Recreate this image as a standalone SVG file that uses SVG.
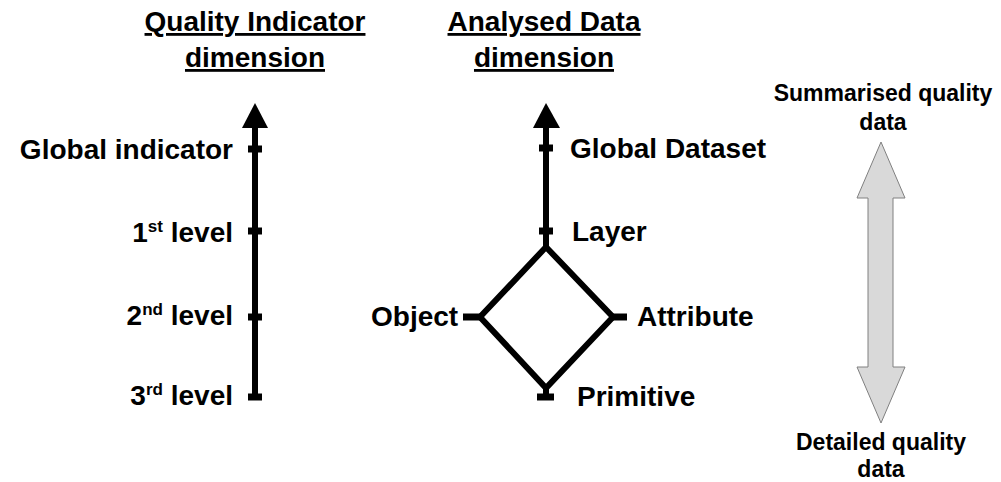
<svg xmlns="http://www.w3.org/2000/svg" width="1001" height="482" viewBox="0 0 1001 482">
<style>
text{font-family:"Liberation Sans",Arial,sans-serif;font-weight:bold;fill:#000}
.h{font-size:28px;text-anchor:middle;text-decoration:underline}
.l{font-size:28px}
.r{font-size:23px;text-anchor:middle}
.sup{font-size:17px}
.ax{stroke:#000;stroke-width:6;fill:none}
.tk{stroke:#000;stroke-width:7;fill:none}
</style>
<g id="header-quality"><text class="h" x="255" y="31">Quality Indicator</text><text class="h" x="255" y="67">dimension</text></g>
<g id="header-data"><text class="h" x="544" y="31">Analysed Data</text><text class="h" x="544" y="67">dimension</text></g>
<g id="connectors">
<line class="ax" x1="255" y1="125" x2="255" y2="397"/>
<polygon points="255,103 268,128 242,128" fill="#000"/>
<line class="ax" x1="546" y1="125" x2="546" y2="247"/>
<polygon points="546,103 560,128 533,128" fill="#000"/>
<polygon class="ax" points="546,247 613,317 546,388 480,317" stroke-linejoin="miter"/>
<line class="ax" x1="546" y1="386" x2="546" y2="397"/>
</g>
<g id="global-indicator"><line class="tk" x1="248" y1="149" x2="262" y2="149"/><text class="l" x="233" y="159" text-anchor="end">Global indicator</text></g>
<g id="level1"><line class="tk" x1="248" y1="231" x2="262" y2="231"/><text class="l" x="233" y="242" text-anchor="end">1<tspan class="sup" dy="-10">st</tspan><tspan dy="10"> level</tspan></text></g>
<g id="level2"><line class="tk" x1="248" y1="317" x2="262" y2="317"/><text class="l" x="233" y="325" text-anchor="end">2<tspan class="sup" dy="-10">nd</tspan><tspan dy="10"> level</tspan></text></g>
<g id="level3"><line class="tk" x1="248" y1="397" x2="262" y2="397"/><text class="l" x="233" y="405" text-anchor="end">3<tspan class="sup" dy="-10">rd</tspan><tspan dy="10"> level</tspan></text></g>
<g id="global-dataset"><line class="tk" x1="539" y1="148" x2="553" y2="148"/><text class="l" x="570" y="158">Global Dataset</text></g>
<g id="layer"><line class="tk" x1="539" y1="231" x2="553" y2="231"/><text class="l" x="572" y="241">Layer</text></g>
<g id="object"><line class="tk" x1="463" y1="317" x2="481" y2="317"/><text class="l" x="371" y="326">Object</text></g>
<g id="attribute"><line class="tk" x1="612" y1="317" x2="627" y2="317"/><text class="l" x="637" y="326">Attribute</text></g>
<g id="primitive"><line class="tk" x1="537" y1="397" x2="554" y2="397"/><text class="l" x="577" y="406">Primitive</text></g>
<g id="summarised"><text class="r" x="883" y="101">Summarised quality</text><text class="r" x="883" y="130">data</text></g>
<g id="detailed"><text class="r" x="881" y="450">Detailed quality</text><text class="r" x="881" y="477">data</text></g>
<g id="double-arrow"><polygon points="881,142 905,198 893,198 893,367 905,367 881,423 857,367 868,367 868,198 857,198" fill="#d9d9d9" stroke="#808080" stroke-width="1"/></g>
</svg>
